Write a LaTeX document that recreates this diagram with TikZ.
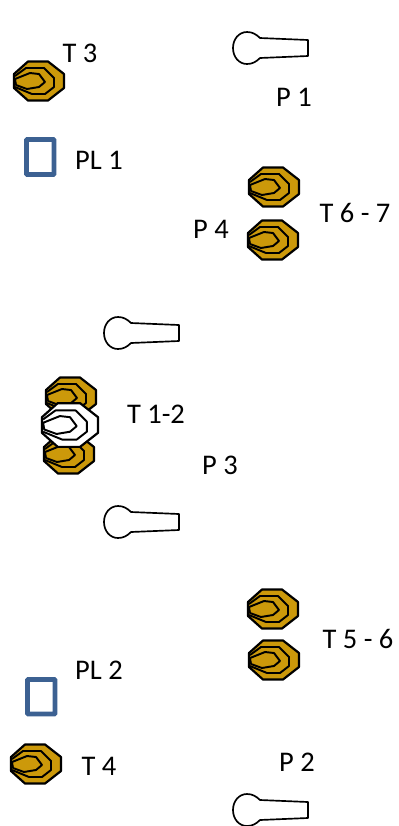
\documentclass[tikz,border=0pt]{standalone}
\usepackage{fontspec}
\setmainfont{Carlito}
\definecolor{nutgold}{RGB}{204,153,10}
\definecolor{plateblue}{RGB}{60,97,146}
\tikzset{
  lbl/.style={inner sep=0pt,font=\fontsize{16.2}{18}\selectfont},
  plate/.style={draw=plateblue,line width=2.8pt,rounded corners=0.5pt},
  pics/nut/.style={code={
    \draw [line width=1.25pt,fill=#1,line join=round] (-25,-7) -- (-11,-19.5) -- (9,-19.5) -- (25,-7) -- (25,7) -- (9,19.5) -- (-11,19.5) -- (-25,7) -- cycle;
    \draw [line width=1.1pt,line join=round] (-24,-5) -- (-13,-13) -- (5,-13) -- (15,-3) -- (15,6) -- (6,13) -- (-7,13) -- (-24,6);
    \draw [line width=1.1pt,line join=round] (-24,-2) -- (-9,-8) -- (0,-7) -- (6,1) -- (0,6) -- (-12,8) -- (-23,4) -- cycle;
  }},
  pics/key/.style={code={
    \draw [line width=0.95pt,fill=white,line join=round] (14,-10) -- (62,-8) -- (62,8) -- (14,10) .. controls (10,14) and (6,16) .. (1,16) .. controls (-7,16) and (-13,9) .. (-13,0) .. controls (-13,-9) and (-7,-16) .. (1,-16) .. controls (6,-16) and (10,-14) .. (14,-10) -- cycle;
  }}
}
\begin{document}
\begin{tikzpicture}[x=0.02cm,y=-0.02cm]
\useasboundingbox (0,0) rectangle (399,826);
% keys
\draw (246,48) pic {key};
\draw (117,333) pic {key};
\draw (117,522) pic {key};
\draw (246,810) pic {key};
% nuts
\draw (39,81) pic {nut=nutgold};
\draw (274,187) pic {nut=nutgold};
\draw (273,240) pic {nut=nutgold};
\draw (71,397) pic {nut=nutgold};
\draw (69,454) pic {nut=nutgold};
\draw (70,425) pic [scale=1.12] {nut=white};
\draw (273,609) pic {nut=nutgold};
\draw (274,660) pic {nut=nutgold};
\draw (36,764) pic {nut=nutgold};
% plates
\draw [plate] (26.5,139.5) rectangle (54,174.5);
\draw [plate] (27.5,679.5) rectangle (55,714);
% labels
\node [lbl] (t3) at (80,53) {T 3};
\node [lbl] (p1) at (294,97) {P 1};
\node [lbl] (pl1) at (99,160) {PL 1};
\node [lbl] (p4) at (211,229) {P 4};
\node [lbl] (t67) at (355,213) {T 6 - 7};
\node [lbl] (t12) at (156,414) {T 1-2};
\node [lbl] (p3) at (220,465) {P 3};
\node [lbl] (t56) at (358,639) {T 5 - 6};
\node [lbl] (pl2) at (99,670) {PL 2};
\node [lbl] (t4) at (99,766) {T 4};
\node [lbl] (p2) at (297,762) {P 2};
\end{tikzpicture}
\end{document}
